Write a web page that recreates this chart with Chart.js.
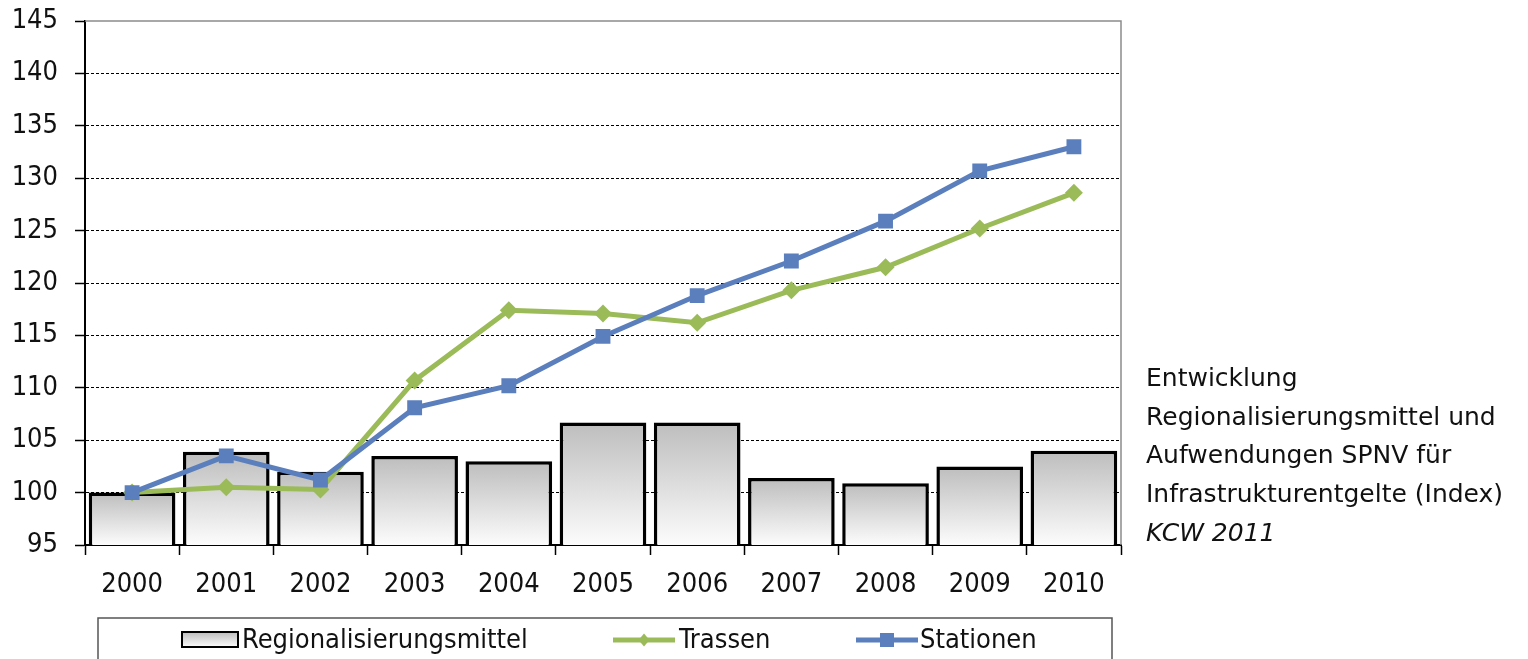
<!DOCTYPE html>
<html lang="de">
<head>
<meta charset="utf-8">
<title>Entwicklung Regionalisierungsmittel und Aufwendungen SPNV</title>
<script src="https://cdn.jsdelivr.net/npm/chart.js@4.4.1/dist/chart.umd.min.js"></script>
<style>
  html, body { margin: 0; padding: 0; background: #fff; }
  #wrap { position: relative; width: 1528px; height: 659px; overflow: hidden; }
  #chart { position: absolute; left: 0; top: 0; }
  #caption {
    position: absolute; left: 1146px; top: 359px;
    font-family: "DejaVu Sans", sans-serif; font-size: 25px; line-height: 38.7px;
    color: #111; white-space: nowrap;
  }
  #caption em { font-style: italic; }
</style>
</head>
<body>
<div id="wrap">
  <canvas id="chart" width="1528" height="659"></canvas>
  <div id="caption">Entwicklung<br>Regionalisierungsmittel und<br>Aufwendungen SPNV für<br>Infrastrukturentgelte (Index)<br><em>KCW 2011</em></div>
</div>
<script>
// Index values, 2000 = 100
const years = ['2000', '2001', '2002', '2003', '2004', '2005', '2006', '2007', '2008', '2009', '2010'];
const regionalisierungsmittel = [100, 103.9, 102.0, 103.5, 103.0, 106.7, 106.7, 101.4, 100.9, 102.5, 104.0];
const trassen = [100, 100.5, 100.3, 110.7, 117.4, 117.1, 116.2, 119.3, 121.5, 125.2, 128.6];
const stationen = [100, 103.5, 101.2, 108.1, 110.2, 114.9, 118.8, 122.1, 125.9, 130.7, 133.0];
const seriesNames = ['Regionalisierungsmittel', 'Trassen', 'Stationen'];

const CHART_FONT = '"DejaVu Sans Condensed", "DejaVu Sans", sans-serif';
const GREEN = '#9bbb59';
const BLUE = '#5b7fbd';

// vertical grey-to-white fill for each bar
function barGradient(ctx) {
  const chart = ctx.chart;
  const y = chart.scales && chart.scales.y;
  if (!y || ctx.raw == null) return '#dddddd';
  const top = y.getPixelForValue(ctx.raw);
  const bottom = y.getPixelForValue(y.min);
  if (!isFinite(top) || !isFinite(bottom) || top === bottom) return '#dddddd';
  const g = chart.ctx.createLinearGradient(0, top, 0, bottom);
  g.addColorStop(0, '#bdbdbd');
  g.addColorStop(1, '#fcfcfc');
  return g;
}

// grey frame on top and right side of the plot
const framePlugin = {
  id: 'frame',
  afterDatasetsDraw(chart) {
    const { ctx, chartArea: a } = chart;
    ctx.save();
    ctx.strokeStyle = '#8c8c8c';
    ctx.lineWidth = 1.5;
    ctx.beginPath();
    ctx.moveTo(a.left, a.top);
    ctx.lineTo(a.right, a.top);
    ctx.lineTo(a.right, a.bottom);
    ctx.stroke();
    ctx.restore();
  }
};

function drawMarker(ctx, style, x, y, color) {
  ctx.fillStyle = color;
  ctx.beginPath();
  if (style === 'rect') {
    ctx.rect(x - 7, y - 7, 14, 14);
  } else {
    ctx.moveTo(x, y - 6.5);
    ctx.lineTo(x + 5.5, y);
    ctx.lineTo(x, y + 6.5);
    ctx.lineTo(x - 5.5, y);
    ctx.closePath();
  }
  ctx.fill();
}

// boxed legend below the axis
const legendBoxPlugin = {
  id: 'legendBox',
  afterDraw(chart) {
    const ctx = chart.ctx;
    ctx.save();
    ctx.strokeStyle = '#555';
    ctx.lineWidth = 1.5;
    ctx.strokeRect(98, 618, 1014, 60);

    const cy = 640;
    // bar swatch
    const g = ctx.createLinearGradient(0, 632, 0, 647);
    g.addColorStop(0, '#bdbdbd');
    g.addColorStop(1, '#fcfcfc');
    ctx.fillStyle = g;
    ctx.fillRect(182, 632, 56, 15);
    ctx.strokeStyle = '#000';
    ctx.lineWidth = 2;
    ctx.strokeRect(182, 632, 56, 15);

    // line swatches
    const lines = [
      { x0: 613, x1: 675, color: GREEN, style: 'rectRot' },
      { x0: 856, x1: 918, color: BLUE, style: 'rect' }
    ];
    lines.forEach(l => {
      ctx.strokeStyle = l.color;
      ctx.lineWidth = 5;
      ctx.beginPath();
      ctx.moveTo(l.x0, cy);
      ctx.lineTo(l.x1, cy);
      ctx.stroke();
      drawMarker(ctx, l.style, (l.x0 + l.x1) / 2, cy, l.color);
    });

    ctx.fillStyle = '#111';
    ctx.font = '27px ' + CHART_FONT;
    ctx.textBaseline = 'middle';
    ctx.textAlign = 'left';
    ctx.fillText(seriesNames[0], 242, cy + 1);
    ctx.fillText(seriesNames[1], 679, cy + 1);
    ctx.fillText(seriesNames[2], 920, cy + 1);
    ctx.restore();
  }
};

new Chart(document.getElementById('chart'), {
  data: {
    labels: years,
    datasets: [
      {
        type: 'bar',
        label: seriesNames[0],
        data: regionalisierungsmittel,
        backgroundColor: barGradient,
        borderColor: '#000',
        borderWidth: 3.5,
        borderSkipped: false,
        barPercentage: 0.92,
        categoryPercentage: 1,
        order: 3
      },
      {
        type: 'line',
        label: seriesNames[1],
        data: trassen,
        borderColor: GREEN,
        backgroundColor: GREEN,
        borderWidth: 5,
        pointStyle: 'rectRot',
        pointRadius: 9,
        pointBorderWidth: 0,
        tension: 0,
        order: 2
      },
      {
        type: 'line',
        label: seriesNames[2],
        data: stationen,
        borderColor: BLUE,
        backgroundColor: BLUE,
        borderWidth: 5,
        pointStyle: 'rect',
        pointRadius: 10.5,
        pointBorderWidth: 0,
        tension: 0,
        order: 1
      }
    ]
  },
  options: {
    responsive: false,
    animation: false,
    devicePixelRatio: 1,
    layout: { padding: { top: 21, right: 407, bottom: 0, left: 0 } },
    plugins: {
      legend: { display: false },
      tooltip: { enabled: false }
    },
    scales: {
      x: {
        offset: true,
        grid: {
          offset: true,
          drawOnChartArea: false,
          drawTicks: true,
          tickLength: 10,
          tickColor: '#000',
          tickWidth: 1.5
        },
        border: { color: '#000', width: 2 },
        ticks: {
          color: '#111',
          font: { family: CHART_FONT, size: 27 },
          padding: 14,
          maxRotation: 0,
          autoSkip: false
        },
        afterFit(s) {
          s.height = 114;
          s.paddingLeft = 0;
          s.paddingRight = 0;
        }
      },
      y: {
        min: 95,
        max: 145,
        grid: {
          color: c => (c.tick && c.tick.value === 145) ? 'rgba(0,0,0,0)' : '#000',
          lineWidth: 1,
          drawTicks: true,
          tickLength: 10,
          tickColor: '#000',
          tickWidth: 1.5,
          tickBorderDash: []
        },
        border: { color: '#000', width: 2, dash: [3, 2] },
        ticks: {
          stepSize: 5,
          color: '#111',
          font: { family: CHART_FONT, size: 27 },
          padding: 17
        },
        afterFit(s) {
          s.width = 85;
          s.paddingTop = 0;
          s.paddingBottom = 0;
        }
      }
    }
  },
  plugins: [framePlugin, legendBoxPlugin]
});
</script>
</body>
</html>
